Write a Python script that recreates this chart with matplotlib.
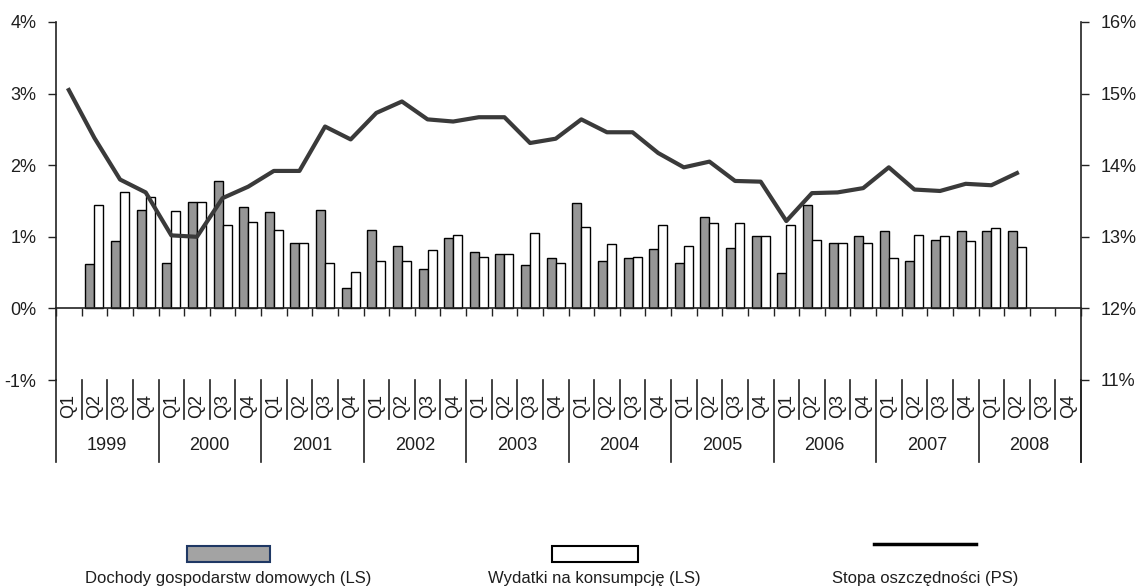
import numpy as np
import matplotlib
matplotlib.use("Agg")
import matplotlib.pyplot as plt
from matplotlib.patches import Rectangle
from matplotlib.lines import Line2D

plt.rcParams['font.family'] = ['Liberation Sans', 'DejaVu Sans']

# ---- data -------------------------------------------------------------
years = ['1999', '2000', '2001', '2002', '2003', '2004', '2005', '2006', '2007', '2008']
quarters = ['Q1', 'Q2', 'Q3', 'Q4']
nan = np.nan

# household income growth, q/q, % (left scale)
dochody = [nan, 0.62, 0.94, 1.38, 0.64, 1.49, 1.78, 1.41, 1.34, 0.92, 1.38, 0.28,
           1.09, 0.875, 0.55, 0.99, 0.79, 0.76, 0.61, 0.70, 1.47, 0.66, 0.70, 0.83,
           0.63, 1.27, 0.85, 1.01, 0.50, 1.45, 0.92, 1.01, 1.08, 0.66, 0.96, 1.08,
           1.08, 1.08, nan, nan]
# consumption spending growth, q/q, % (left scale)
wydatki = [nan, 1.44, 1.62, 1.56, 1.36, 1.49, 1.16, 1.21, 1.09, 0.92, 0.64, 0.51,
           0.66, 0.66, 0.81, 1.03, 0.72, 0.76, 1.05, 0.63, 1.14, 0.90, 0.72, 1.16,
           0.875, 1.19, 1.19, 1.01, 1.16, 0.96, 0.92, 0.92, 0.70, 1.03, 1.01, 0.945,
           1.12, 0.86, nan, nan]
# saving rate, % (right scale)
stopa = [15.05, 14.38, 13.80, 13.62, 13.02, 13.00, 13.54, 13.70, 13.92, 13.92,
         14.54, 14.36, 14.73, 14.89, 14.64, 14.61, 14.67, 14.67, 14.31, 14.37,
         14.64, 14.46, 14.46, 14.17, 13.97, 14.05, 13.78, 13.77, 13.22, 13.61,
         13.62, 13.68, 13.97, 13.66, 13.64, 13.74, 13.72, 13.89]

left_ticks = [-1, 0, 1, 2, 3, 4]
right_ticks = [11, 12, 13, 14, 15, 16]

legend_labels = ['Dochody gospodarstw domowych (LS)',
                 'Wydatki na konsumpcję (LS)',
                 'Stopa oszczędności (PS)']

# ---- figure -----------------------------------------------------------
W, H = 1141, 588
fig = plt.figure(figsize=(W / 100, H / 100), dpi=100)
ax = fig.add_axes([56 / W, 1 - 380 / H, (1081 - 56) / W, 358 / H])

n = len(years) * len(quarters)
x = np.arange(n)
txt_col = '#1e1e1e'
fs = 13

bw = 0.35
ax.bar(x - bw / 2, dochody, width=bw, color='#969696', edgecolor='black', linewidth=1.0, zorder=2)
ax.bar(x + bw / 2, wydatki, width=bw, color='white', edgecolor='black', linewidth=1.0, zorder=2)

ax.set_xlim(-0.5, n - 0.5)
ax.set_ylim(-1, 4)
ax.set_yticks(left_ticks)
ax.set_yticklabels([f'{v}%' for v in left_ticks], fontsize=fs, color=txt_col)
ax.tick_params(axis='y', direction='out', length=6, width=1, pad=8, color='#222222')

# category axis sits on the zero line
ax.spines['bottom'].set_position(('data', 0))
ax.spines['top'].set_visible(False)
ax.spines['right'].set_visible(False)
for s in ('left', 'bottom'):
    ax.spines[s].set_color('#222222')
    ax.spines[s].set_linewidth(1.2)
ax.set_xticks(np.arange(-0.5, n + 0.5, 1))
ax.set_xticklabels([])
ax.tick_params(axis='x', direction='out', length=6, width=1, color='#222222')

# two-level category labels below the plot
tr = ax.get_xaxis_transform()
for b in range(n + 1):
    y1 = -0.229 if b % 4 == 0 else -0.109
    ax.add_line(Line2D([b - 0.5, b - 0.5], [0, y1], transform=tr, color='#222222',
                       lw=1.2, clip_on=False))
for i in range(n):
    ax.text(i, -0.074, quarters[i % 4], transform=tr, rotation=90, ha='center',
            va='center', fontsize=fs, color=txt_col)
for j, yr in enumerate(years):
    ax.text(4 * j + 1.5, -0.182, yr, transform=tr, ha='center', va='center',
            fontsize=fs, color=txt_col)

# right scale: saving rate
ax2 = ax.twinx()
ax2.plot(x[:len(stopa)], stopa, color='#3a3a3a', lw=3.0, solid_joinstyle='round', zorder=3)
ax2.set_ylim(11, 16)
ax2.set_yticks(right_ticks)
ax2.set_yticklabels([f'{v}%' for v in right_ticks], fontsize=fs, color=txt_col)
ax2.tick_params(axis='y', direction='out', length=6, width=1, pad=8, color='#222222')
for s in ('top', 'left', 'bottom'):
    ax2.spines[s].set_visible(False)
ax2.spines['right'].set_color('#222222')
ax2.spines['right'].set_linewidth(1.2)
ax2.add_line(Line2D([n - 0.5, n - 0.5], [0, -0.229], transform=ax2.get_xaxis_transform(),
                    color='#222222', lw=1.2, clip_on=False))

# ---- legend -----------------------------------------------------------
fig.add_artist(Rectangle((187 / W, 1 - 562 / H), 83 / W, 16 / H, transform=fig.transFigure,
                         facecolor='#a3a3a3', edgecolor='#1f3864', linewidth=1.5))
fig.add_artist(Rectangle((552 / W, 1 - 562 / H), 86 / W, 16 / H, transform=fig.transFigure,
                         facecolor='white', edgecolor='black', linewidth=1.5))
fig.add_artist(Line2D([874 / W, 976 / W], [1 - 544 / H] * 2, transform=fig.transFigure,
                      color='black', lw=2.5))
for cx, lab in zip([228, 594, 925], legend_labels):
    fig.text(cx / W, 1 - 578 / H, lab, ha='center', va='center', fontsize=12, color=txt_col)

fig.savefig('out.png', dpi=100, facecolor='white')
